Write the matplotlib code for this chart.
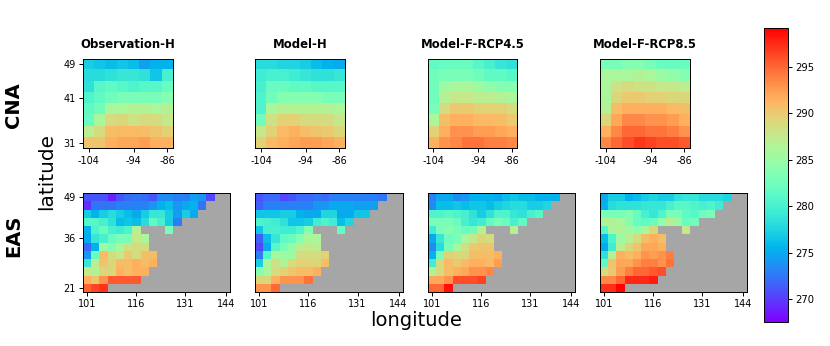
import numpy as np
import matplotlib
matplotlib.use('Agg')
import matplotlib.pyplot as plt

W, H = 830, 346
VMIN, VMAX = 267.6, 299.2

titles = ['Observation-H', 'Model-H', 'Model-F-RCP4.5', 'Model-F-RCP8.5']
cna_xticklabels = ['-104', '-94', '-86']
cna_yticklabels = ['31', '41', '49']
eas_xticklabels = ['101', '116', '131', '144']
eas_yticklabels = ['21', '36', '49']
cbar_ticks = [270, 275, 280, 285, 290, 295]

# rows are listed from north (top) to south (bottom)
cna_obs = [
    [277, 276.5, 276, 276.5, 276, 274.5, 275.5, 275.5],
    [278, 278, 278.5, 279, 279, 278.5, 276.5, 280],
    [278.5, 281, 281.5, 281, 280.5, 281, 281, 282],
    [280.5, 281.5, 282.5, 283, 283, 283, 283, 283.7],
    [281.5, 282.5, 286, 286, 286.5, 286.5, 286, 286.5],
    [282, 286, 288.7, 289, 288.2, 288.7, 288.7, 287.7],
    [287, 288.7, 290.7, 291, 291, 290.7, 290.3, 289.5],
    [290.3, 290.3, 291.5, 292, 292, 292.5, 291.5, 291.5],
]
cna_model = [
    [278, 278, 277.5, 277.5, 277, 276, 275.5, 275],
    [279.5, 280, 280, 279.5, 279, 278.5, 278.5, 279],
    [280, 282, 282, 281.5, 281.5, 281, 281, 281],
    [280.5, 282.5, 283.7, 283.7, 283.7, 283.7, 283, 283],
    [280.5, 286, 286.5, 286.5, 286.5, 286.5, 286.5, 286],
    [282.5, 288.2, 289.5, 289.5, 288.7, 288.7, 288.7, 287.7],
    [287.7, 289.5, 291, 291.5, 290.7, 290.3, 290, 289],
    [289.5, 291, 291.5, 292, 292.5, 292.5, 292, 291.5],
]
cna_rcp45 = [
    [281.5, 282, 282, 282, 281, 280, 279, 278.5],
    [282.5, 283, 283, 283, 282.5, 281.5, 281.5, 281],
    [282.5, 285.2, 286, 286, 285.2, 284.5, 283.7, 283.7],
    [282.5, 286.5, 287.7, 287.7, 287, 287, 286.5, 286],
    [283, 288.7, 290, 290, 289.5, 289.5, 289.5, 288.7],
    [286, 290.7, 291.5, 291.5, 291, 291, 290.7, 290],
    [289.5, 291.5, 293, 293, 292.5, 292.5, 292, 291.5],
    [291.5, 293, 293.5, 294.5, 294.5, 294, 294, 293.5],
]
cna_rcp85 = [
    [283, 283, 283.7, 283.7, 283, 282, 282, 282],
    [286, 286, 286, 286.5, 286, 285.2, 284.5, 283.7],
    [286, 288.2, 288.7, 288.2, 288.2, 287.7, 287.7, 287],
    [286, 289, 290, 290, 289.5, 289.5, 289, 289],
    [286.5, 290.7, 291.5, 291.5, 291.5, 291.5, 291, 290.7],
    [289, 292, 293.5, 293.5, 293, 293, 292.5, 291.5],
    [291.5, 293.5, 295, 295, 294.5, 294.5, 294, 293],
    [293.5, 295, 296, 297, 296.5, 296, 296, 295.5],
]

nan = np.nan
# each row holds the land cells from the west; cells further east are missing
eas_obs = [
    [271, 271, 271, 269, 271, 272, 272.5, 272, 271, 273.5, 273.5, 273, 273, 274.5, 274, 270.5],
    [269.5, 272.5, 272.5, 272.5, 273, 273, 273, 273, 274, 275.5, 276, 274, 275, 275.5, 272.5],
    [277, 275.5, 277, 278, 277, 276, 275, 277, 279, 279, 277, 274.5, 277, 275],
    [281, 281, 280, 278.5, 276, 276.5, 276, 278, 281.5, 280, 277, 273],
    [275.5, 280.5, 282, 280, 279.5, 280.5, 286.5, nan, nan, nan, 283],
    [275, 279, 280, 282, 283, 283, 287.7, 286],
    [272, 275.5, 285.2, 283.7, 286, 288.2, 288.7, 288.7],
    [274, 282, 290.7, 288.7, 287.7, 290, 288.7, 290.7, 290.7],
    [279, 287, 290.3, 289, 290.7, 290.7, 291.5, 290.7, 291.5],
    [287.7, 286.5, 289, 289, 291.5, 290.7, 291.5, 291.5],
    [291.5, 290.3, 293, 295.5, 295.5, 295.5, 295.5],
    [295.2, 296.4, 297.2],
]
eas_model = [
    [271, 272, 272, 270.5, 271, 272, 272, 272.5, 272, 273, 273, 273, 273, 273, 273, 272.5],
    [271.5, 273, 273, 273, 273, 273, 273, 274, 274, 275, 275, 275, 274.5, 274.5, 274.5],
    [276.5, 276.5, 276.5, 277, 277, 275.5, 275, 275, 277.5, 277.5, 275, 275, 276.5, 276.5],
    [280.5, 280, 279.5, 278.5, 276.5, 276.5, 277, 279.5, 280.5, 279.5, 276, 277.5],
    [276.5, 280, 280, 279.5, 279.5, 280.5, 283.7, nan, nan, nan, 282],
    [271.5, 276, 279, 281.5, 282, 283.7, 286, 286],
    [270.5, 275, 281, 283, 284.5, 287, 287.7, 287],
    [273, 281, 286, 285.2, 285.2, 288.7, 288.7, 288.7, 289.5],
    [277, 286, 288.2, 286.5, 288.7, 289.5, 289.5, 289, 290.7],
    [283.7, 286, 288.7, 289.5, 290.3, 290.7, 290.7, 291.5],
    [289, 289, 291.5, 293, 293, 293, 294.5],
    [292.8, 292.8, 295],
]
eas_rcp45 = [
    [273, 275, 275, 273.5, 274, 275.5, 275.5, 275.5, 275, 276, 276.5, 276, 276, 275.5, 275.5, 275.5],
    [273.5, 276, 276, 276.5, 276, 276.5, 276.5, 276, 277, 277.5, 278, 278, 277, 277, 277.5],
    [280.5, 280.5, 281, 280.5, 280, 278.5, 277, 278.5, 280.5, 280.5, 279, 278.5, 280, 281],
    [283, 283, 283, 282, 280, 279, 279.5, 281.5, 283, 282, 280, 281.5],
    [279.5, 283, 283.7, 283, 282, 282.5, 286.5, nan, nan, nan, 286.5],
    [275, 279, 282.5, 283, 286, 287.7, 289, 288.7],
    [273.5, 278, 283, 286, 288.2, 290, 290.3, 290.3],
    [275.5, 283, 289.5, 289, 289, 290.7, 290.7, 290.7, 291.5],
    [279.5, 288.7, 291, 290, 291, 291.5, 291.5, 291, 292.5],
    [286.5, 288.7, 290.7, 291.5, 292, 293, 293, 293.5],
    [292, 292, 293, 296, 296, 296, 296.5],
    [295, 295, 298.5],
]
eas_rcp85 = [
    [275, 277, 277, 275.5, 276, 277, 277.5, 277, 277, 278.5, 279, 279, 278, 278, 278, 277.5],
    [275.5, 278, 278.5, 278.5, 278.5, 279, 279, 279, 280, 281, 281, 280.5, 280, 280.5, 279.5],
    [283, 283, 283, 283.7, 282, 280, 279, 280.5, 283, 283, 281.5, 281, 282.5, 283],
    [286.5, 286.5, 286, 283.7, 282, 281.5, 282, 284.5, 287, 285.2, 282, 282.5],
    [281, 286, 286.5, 285.2, 284.5, 286, 289, nan, nan, nan, 287.7],
    [276, 280.5, 285.2, 287, 288.7, 290.7, 291.5, 290.7],
    [275, 279.5, 287, 289, 290.3, 292, 292, 291.5],
    [278.5, 286.5, 291.5, 290.7, 291.5, 293, 292.5, 293, 294],
    [281.5, 290.3, 292, 292, 293, 294, 294, 293, 294.5],
    [288.7, 290, 292.5, 294, 295, 295, 295.5, 296],
    [293.5, 293.5, 295, 297.5, 297.5, 297.5, 298],
    [297.3, 297.3, 299],
]

cna_fields = [cna_obs, cna_model, cna_rcp45, cna_rcp85]
eas_fields = [eas_obs, eas_model, eas_rcp45, eas_rcp85]

cmap = plt.get_cmap('rainbow').copy()
cmap.set_bad('#a6a6a6')


def grid(rows, ncols):
    out = np.full((len(rows), ncols), np.nan)
    for i, r in enumerate(rows):
        out[i, :len(r)] = r
    return np.ma.masked_invalid(out[::-1])


def px_axes(fig, x0, y0, x1, y1):
    return fig.add_axes([x0 / W, 1 - y1 / H, (x1 - x0) / W, (y1 - y0) / H])


fig = plt.figure(figsize=(W / 100, H / 100), dpi=100)
TICK = 7.0
norm = plt.Normalize(VMIN, VMAX)

cna_left = [83.3, 255.4, 427.8, 600.2]
eas_left = [82.8, 255.2, 427.8, 600.0]
im = None
for i in range(4):
    ax = px_axes(fig, cna_left[i], 58.7, cna_left[i] + 89.6, 148.3)
    im = ax.imshow(grid(cna_fields[i], 8), origin='lower', aspect='auto', cmap=cmap,
                   norm=norm, interpolation='nearest')
    ax.set_xticks([0, 4, 7], cna_xticklabels, fontsize=TICK)
    if i == 0:
        ax.set_yticks([0, 4, 7], cna_yticklabels, fontsize=TICK)
    else:
        ax.set_yticks([])
    ax.tick_params(length=2.8, width=0.7, pad=2.5)
    ax.set_title(titles[i], fontsize=8.4, fontweight='bold', pad=7.5)
    for s in ax.spines.values():
        s.set_linewidth(0.7)

    ax = px_axes(fig, eas_left[i], 193, eas_left[i] + 147.4, 291.7)
    ax.imshow(grid(eas_fields[i], 18), origin='lower', aspect='auto', cmap=cmap,
              norm=norm, interpolation='nearest')
    ax.set_xticks([0, 6, 12, 17], eas_xticklabels, fontsize=TICK)
    if i == 0:
        ax.set_yticks([0, 6, 11], eas_yticklabels, fontsize=TICK)
    else:
        ax.set_yticks([])
    ax.tick_params(length=2.8, width=0.7, pad=2.5)
    for s in ax.spines.values():
        s.set_linewidth(0.7)

cax = px_axes(fig, 764, 27.7, 788.3, 321.7)
cb = fig.colorbar(im, cax=cax)
cb.set_ticks(cbar_ticks)
cb.ax.tick_params(labelsize=7.2, length=2.8, width=0.7, pad=2.5)
cb.outline.set_linewidth(0.7)

fig.text(14 / W, 1 - 105 / H, 'CNA', rotation=90, fontsize=14, fontweight='bold', ha='center', va='center')
fig.text(14 / W, 1 - 236 / H, 'EAS', rotation=90, fontsize=14, fontweight='bold', ha='center', va='center')
fig.text(47 / W, 1 - 171.5 / H, 'latitude', rotation=90, fontsize=14.4, ha='center', va='center')
fig.text(416 / W, 1 - 321 / H, 'longitude', fontsize=14, ha='center', va='center')

fig.savefig('out.png', dpi=100)
